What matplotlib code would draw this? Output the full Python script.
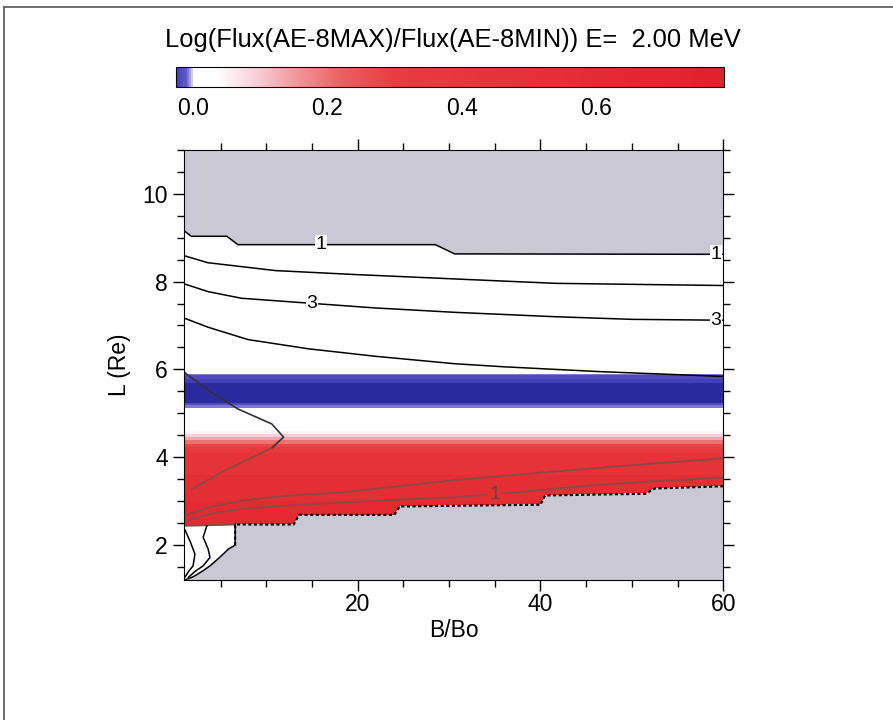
import numpy as np
import matplotlib
matplotlib.use("Agg")
import matplotlib.pyplot as plt
from matplotlib.colors import LinearSegmentedColormap, Normalize
from matplotlib.lines import Line2D
from matplotlib.ticker import MultipleLocator

plt.rcParams['font.family'] = ['Liberation Sans', 'DejaVu Sans']

# log(flux max / flux min) in L bands (band edges, top to bottom)
L_edges = [11.0, 5.90, 5.86, 5.78, 5.68, 5.24, 5.18, 5.12, 4.60, 4.52, 4.45,
           4.38, 4.30, 4.22, 4.10, 3.60, 3.00, 2.46, 1.0]
ratio = [0.01, -0.006, -0.018, -0.023, -0.06, -0.016, -0.007, 0.015, 0.05, 0.09,
         0.14, 0.20, 0.28, 0.36, 0.46, 0.55, 0.63, 0.02]

# outer edge of valid data (upper contour "1")
top_B = [1.0, 1.8, 5.7, 6.9, 28.5, 30.6, 60.0]
top_L = [9.16, 9.03, 9.03, 8.84, 8.84, 8.63, 8.62]

# inner edge of valid data (white corner then staircase)
low_B = [1.0, 2.0, 3.1, 3.85, 4.9, 5.85, 6.6, 6.6, 13.0, 13.6, 24.0, 24.6,
         40.0, 40.5, 51.5, 52.5, 60.0]
low_L = [1.2, 1.28, 1.42, 1.53, 1.72, 1.91, 2.0, 2.47, 2.47, 2.69, 2.69,
         2.88, 2.92, 3.13, 3.17, 3.29, 3.34]

# flux contours
c2_B = [1.0, 3.6, 11.0, 19.7, 30.6, 41.6, 52.5, 60.0]
c2_L = [8.59, 8.43, 8.25, 8.16, 8.06, 7.96, 7.93, 7.91]
c3_B = [1.0, 3.65, 7.3, 13.9, 21.9, 30.6, 41.6, 50.0, 60.0]
c3_L = [7.95, 7.77, 7.62, 7.52, 7.40, 7.30, 7.20, 7.14, 7.12]
c4_B = [1.0, 3.65, 8.0, 14.6, 21.9, 30.6, 36.0, 46.5, 60.0]
c4_L = [7.17, 6.96, 6.68, 6.47, 6.30, 6.13, 6.06, 5.95, 5.84]
nose_B = [1.0, 3.5, 6.9, 10.6, 11.9, 10.6, 8.0, 5.5, 2.2, 1.8]
nose_L = [5.94, 5.55, 5.10, 4.76, 4.46, 4.21, 3.95, 3.70, 3.32, 3.28]
red_hi_B = [1.3, 4.0, 7.3, 12.0, 18.2, 24.0, 30.6, 40.0, 50.0, 60.0]
red_hi_L = [2.69, 2.88, 3.01, 3.12, 3.20, 3.33, 3.48, 3.65, 3.82, 3.98]
red_mid_B = [1.4, 4.0, 7.3, 12.0, 18.2, 24.0, 30.6, 37.4, 45.0, 52.0, 60.0]
red_mid_L = [2.56, 2.72, 2.82, 2.90, 2.97, 3.03, 3.09, 3.20, 3.35, 3.45, 3.54]
red_lo_B = [1.0, 3.0, 5.0, 6.6]
red_lo_L = [2.44, 2.45, 2.46, 2.47]
in1_B = [1.1, 1.65, 2.2, 2.0, 1.5, 1.1]
in1_L = [2.35, 2.10, 1.80, 1.53, 1.40, 1.27]
in2_B = [3.5, 3.1, 3.65, 3.85, 3.1, 2.2, 1.5]
in2_L = [2.44, 2.18, 1.91, 1.72, 1.53, 1.40, 1.27]

labels = [("1", 16.0, 8.84), ("1", 59.2, 8.62), ("3", 15.0, 7.50),
          ("3", 59.2, 7.12), ("1", 35.0, 3.16)]

# build the image grid
B_grid = np.arange(1.0, 60.0001, 0.1)
L_grid = np.arange(1.2, 11.0001, 0.01)
band = np.searchsorted(-np.array(L_edges), -L_grid) - 1
band = np.clip(band, 0, len(ratio) - 1)
row_vals = np.array(ratio)[band]
Z = np.tile(row_vals[:, None], (1, len(B_grid)))
upper = np.interp(B_grid, top_B, top_L)
lower = np.interp(B_grid, low_B, low_L)
LL = L_grid[:, None]
Z[(LL > upper[None, :]) | (LL < lower[None, :])] = np.nan

vmin, vmax = -0.025, 0.79
def pos(v):
    return (v - vmin) / (vmax - vmin)
cmap = LinearSegmentedColormap.from_list("ratio", [
    (0.0, '#4440b8'), (pos(-0.012), '#5e58c6'), (pos(-0.004), '#b8b4e6'),
    (pos(0.0), '#ffffff'), (pos(0.035), '#ffffff'), (pos(0.09), '#f8d2dc'),
    (pos(0.15), '#f29aa0'), (pos(0.22), '#ec6060'), (pos(0.30), '#e83c3e'),
    (1.0, '#e0222a')])
cmap.set_under('#2a2a9e')
cmap.set_bad('#cac8d5')

fig = plt.figure(figsize=(8.93, 7.2), dpi=100)
ax = fig.add_axes([0.206, 0.194, 0.604, 0.598])
im = ax.imshow(Z, origin='lower', aspect='auto', interpolation='nearest',
               extent=[B_grid[0], B_grid[-1], L_grid[0], L_grid[-1]],
               cmap=cmap, norm=Normalize(vmin, vmax))

blk = dict(color='black', lw=1.1)
red_c = dict(color='#8a4848', lw=1.3)
ax.plot(top_B, top_L, **blk)
ax.plot(c2_B, c2_L, **blk)
ax.plot(c3_B, c3_L, **blk)
ax.plot(c4_B, c4_L, **blk)
ax.plot(nose_B[:6], nose_L[:6], color='#303040', lw=1.2)
ax.plot(nose_B[5:], nose_L[5:], **red_c)
ax.plot(red_hi_B, red_hi_L, **red_c)
ax.plot(red_mid_B, red_mid_L, **red_c)
ax.plot(red_lo_B, red_lo_L, **red_c)
ax.plot(low_B[6:], low_L[6:], color='black', lw=1.5, ls=(0, (1.5, 1.2)))
ax.plot(low_B[:8], low_L[:8], **blk)
ax.plot(in1_B, in1_L, **blk)
ax.plot(in2_B, in2_L, **blk)
for txt, bx, ly in labels:
    c = '#6a4040' if ly < 4 else 'black'
    fc = '#e23030' if ly < 4 else 'white'
    ax.text(bx, ly, txt, ha='center', va='center', fontsize=14, color=c,
            clip_on=False,
            bbox=dict(boxstyle='square,pad=0.05', fc=fc, ec='none'))

ax.set_xlim(1, 60)
ax.set_ylim(1.2, 11.0)
ax.xaxis.set_major_locator(MultipleLocator(20))
ax.xaxis.set_minor_locator(MultipleLocator(5))
ax.yaxis.set_major_locator(MultipleLocator(2))
ax.yaxis.set_minor_locator(MultipleLocator(0.5))
ax.tick_params(which='both', direction='out', top=True, right=True,
               labelsize=16.5, width=1)
ax.tick_params(which='major', length=8)
ax.tick_params(which='minor', length=5)
ax.tick_params(axis='x', which='major', pad=1)
ax.set_xlabel("B/Bo", fontsize=16.5, labelpad=2)
ax.set_ylabel("L (Re)", fontsize=16.5, labelpad=8)

cax = fig.add_axes([0.197, 0.879, 0.614, 0.028])
cb = fig.colorbar(im, cax=cax, orientation='horizontal', ticks=[0, 0.2, 0.4, 0.6])
cb.ax.tick_params(length=0, labelsize=16.5, pad=7)
cb.outline.set_linewidth(0.8)

fig.text(0.507, 0.944, "Log(Flux(AE-8MAX)/Flux(AE-8MIN)) E=  2.00 MeV",
         ha='center', va='center', fontsize=18.4)

fig.add_artist(Line2D([0.005, 1.0], [0.99, 0.99], color='#555555', lw=1.2))
fig.add_artist(Line2D([0.005, 0.005], [0.0, 0.99], color='#555555', lw=1.2))

fig.savefig("out.png", dpi=100)
